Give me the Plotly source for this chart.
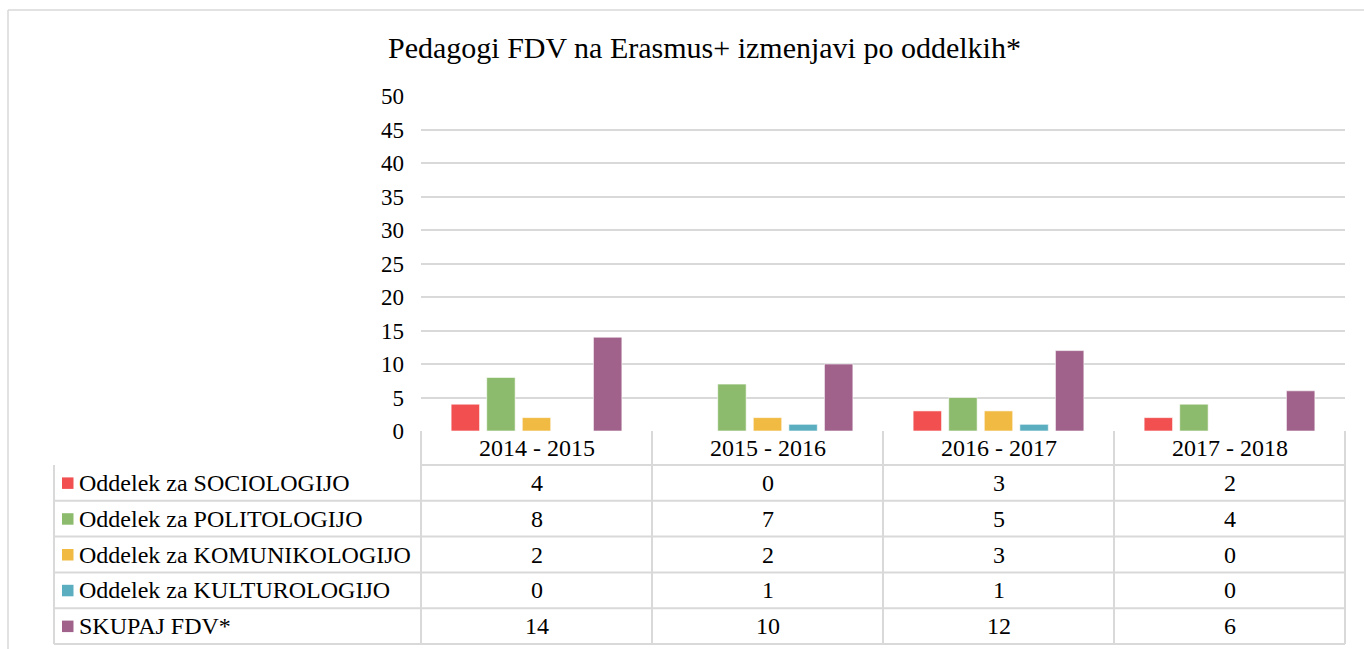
import plotly.graph_objects as go

W, H = 1364, 649

title = "Pedagogi FDV na Erasmus+ izmenjavi po oddelkih*"
categories = ["2014 - 2015", "2015 - 2016", "2016 - 2017", "2017 - 2018"]
series_names = [
    "Oddelek za SOCIOLOGIJO",
    "Oddelek za POLITOLOGIJO",
    "Oddelek za KOMUNIKOLOGIJO",
    "Oddelek za KULTUROLOGIJO",
    "SKUPAJ FDV*",
]
sociologija = [4, 0, 3, 2]
politologija = [8, 7, 5, 4]
komunikologija = [2, 2, 3, 0]
kulturologija = [0, 1, 1, 0]
skupaj = [14, 10, 12, 6]
series_values = [sociologija, politologija, komunikologija, kulturologija, skupaj]
colors = ["#F25050", "#8DBB6D", "#F1BA42", "#5AAEC0", "#A0628A"]
y_ticks = [0, 5, 10, 15, 20, 25, 30, 35, 40, 45, 50]

FONT = "Liberation Serif"
FS = 24
GRID = "#D9D9D9"

def px(x):
    return x / W

def py(y):
    return 1 - y / H

plot_l, plot_r = 421, 1345
plot_t, plot_b = 96, 431
table_l = 54
row_h = 35.8
col_w = (plot_r - plot_l) / len(categories)

fig = go.Figure()
for name, vals, c in zip(series_names, series_values, colors):
    fig.add_trace(go.Bar(
        x=categories, y=vals, name=name,
        marker=dict(color=c, line=dict(color="rgba(255,255,255,0.6)", width=1)),
        showlegend=False,
    ))

shapes = []
annotations = []
line = dict(color=GRID, width=2)

# outer frame (top and left edges only; the rest lies outside the picture)
shapes.append(dict(type="line", xref="paper", yref="paper",
                   x0=px(8), x1=1, y0=py(10), y1=py(10),
                   line=dict(color="#D9D9D9", width=1.5)))
shapes.append(dict(type="line", xref="paper", yref="paper",
                   x0=px(8), x1=px(8), y0=0, y1=py(10),
                   line=dict(color="#D9D9D9", width=1.5)))

# header row
hdr_t, hdr_b = plot_b, plot_b + 34
shapes.append(dict(type="line", xref="paper", yref="paper",
                   x0=px(plot_l), x1=px(plot_r), y0=py(hdr_b), y1=py(hdr_b), line=line))
n_rows = len(series_names)
table_b = hdr_b + row_h * n_rows
for j in range(len(categories) + 1):
    xx = plot_l + j * col_w
    shapes.append(dict(type="line", xref="paper", yref="paper",
                       x0=px(xx), x1=px(xx), y0=py(hdr_t), y1=py(table_b), line=line))
shapes.append(dict(type="line", xref="paper", yref="paper",
                   x0=px(table_l), x1=px(table_l), y0=py(hdr_b), y1=py(table_b), line=line))
for i in range(n_rows):
    yb = hdr_b + row_h * (i + 1)
    shapes.append(dict(type="line", xref="paper", yref="paper",
                       x0=px(table_l), x1=px(plot_r), y0=py(yb), y1=py(yb), line=line))

for j, cat in enumerate(categories):
    annotations.append(dict(text=cat, x=cat, xref="x", y=py((hdr_t + hdr_b) / 2),
                            yref="paper", showarrow=False, yanchor="middle",
                            font=dict(family=FONT, size=FS, color="#000")))

for i, (name, vals, c) in enumerate(zip(series_names, series_values, colors)):
    yc = hdr_b + row_h * i + row_h / 2
    shapes.append(dict(type="rect", xref="paper", yref="paper",
                       x0=px(62), x1=px(73.5), y0=py(yc + 6), y1=py(yc - 5.5),
                       fillcolor=c, line=dict(width=0)))
    annotations.append(dict(text=name, x=px(77), xref="paper", y=py(yc), yref="paper",
                            xanchor="left", yanchor="middle", showarrow=False,
                            font=dict(family=FONT, size=FS, color="#000")))
    for cat, v in zip(categories, vals):
        annotations.append(dict(text=str(v), x=cat, xref="x", y=py(yc), yref="paper",
                                yanchor="middle", showarrow=False,
                                font=dict(family=FONT, size=FS, color="#000")))

annotations.append(dict(text=title, x=px(704), xref="paper", y=py(47), yref="paper",
                        xanchor="center", yanchor="middle", showarrow=False,
                        font=dict(family=FONT, size=30, color="#000")))

fig.update_layout(
    width=W, height=H,
    margin=dict(l=0, r=0, t=0, b=0, autoexpand=False),
    paper_bgcolor="white", plot_bgcolor="white",
    barmode="group", bargap=0.23, bargroupgap=0.2,
    xaxis=dict(domain=[px(plot_l), px(plot_r)], showticklabels=False, showgrid=False,
               zeroline=False, showline=False, ticks=""),
    yaxis=dict(domain=[py(plot_b), py(plot_t)], range=[0, 50], tickvals=y_ticks,
               showgrid=True, gridcolor=GRID, gridwidth=1.5, zeroline=False,
               showline=False, ticks="", ticklabelstandoff=16,
               tickfont=dict(family=FONT, size=23, color="#000")),
    shapes=shapes,
    annotations=annotations,
)

fig.write_html(
    "out.html",
    config={"displayModeBar": False},
    post_script=(
        "document.documentElement.style.margin='0';"
        "document.body.style.margin='0';document.body.style.overflow='hidden';"
    ),
)
